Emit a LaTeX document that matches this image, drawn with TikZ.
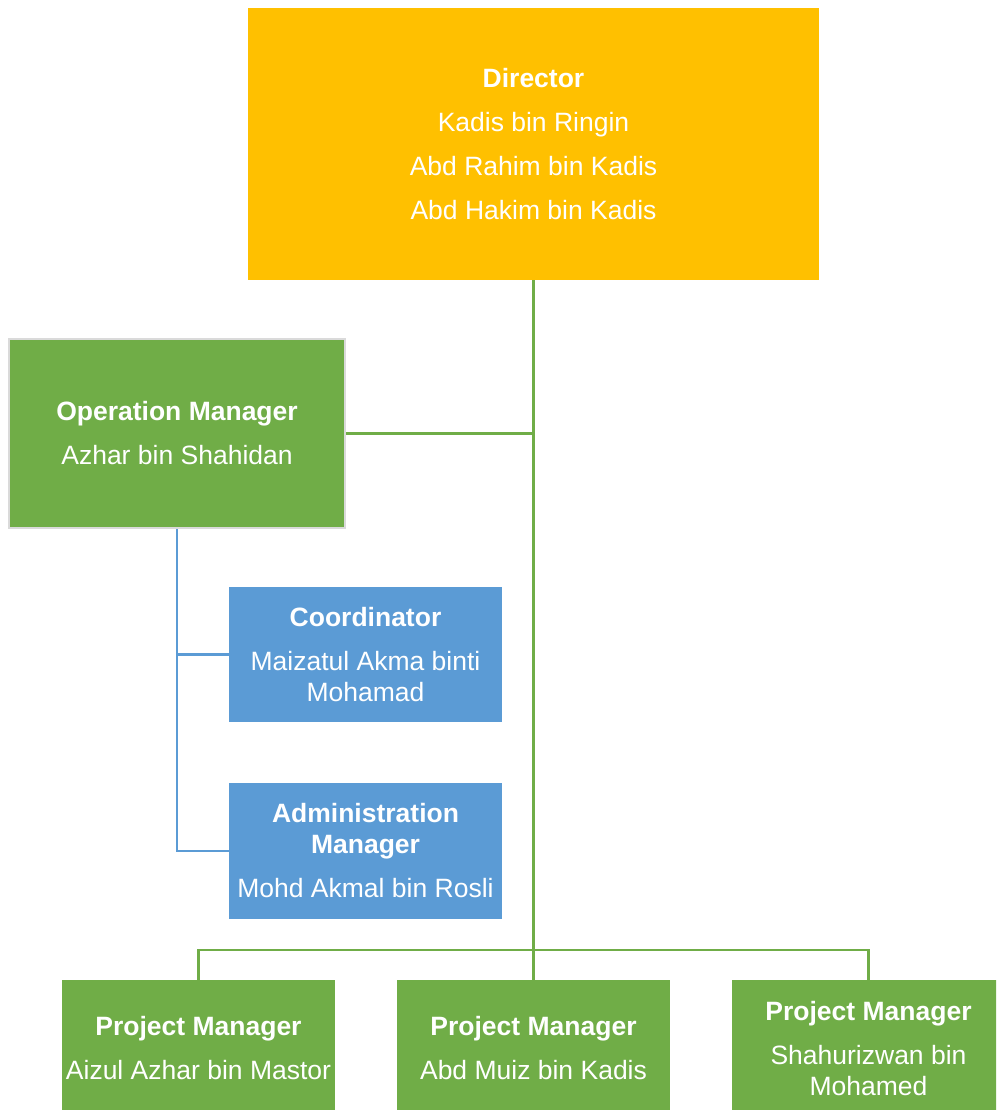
\documentclass[tikz,border=0pt]{standalone}
\usepackage{fontspec}
\setmainfont{Liberation Sans}
\definecolor{gold}{HTML}{FFC000}
\definecolor{leaf}{HTML}{70AD47}
\definecolor{sky}{HTML}{5B9BD5}
\definecolor{rim}{HTML}{DADADA}
\begin{document}
\begin{tikzpicture}[x=1pt,y=-1pt,
  box/.style={draw=none, inner sep=0pt, align=center, text=white,
    font=\fontsize{26.5}{31}\selectfont},
  gline/.style={draw=leaf, line width=2.5pt},
  bline/.style={draw=sky, line width=2.5pt}]
\clip (0,0) rectangle (996,1110);
\fill[white] (0,0) rectangle (996,1110);
\node[box, fill=gold, minimum width=571pt, minimum height=272pt] (dir) at (533.5,144)
  {\textbf{Director}\\[13pt]Kadis bin Ringin\\[13pt]Abd Rahim bin Kadis\\[13pt]Abd Hakim bin Kadis};
\node[box, fill=leaf, draw=rim, line width=2.5pt, minimum width=336pt, minimum height=189pt] (om) at (177,433.5)
  {\textbf{Operation Manager}\\[13pt]Azhar bin Shahidan};
\node[box, fill=sky, minimum width=273pt, minimum height=135pt] (coo) at (365.5,654.5)
  {\textbf{Coordinator}\\[13pt]Maizatul Akma binti\\Mohamad};
\node[box, fill=sky, minimum width=273pt, minimum height=136pt] (adm) at (365.5,851)
  {\textbf{Administration}\\\textbf{Manager}\\[13pt]Mohd Akmal bin Rosli};
\node[box, fill=leaf, minimum width=273pt, minimum height=137pt] (pm1) at (198.5,1048.5)
  {\textbf{Project Manager}\\[13pt]Aizul Azhar bin Mastor};
\node[box, fill=leaf, minimum width=273pt, minimum height=137pt] (pm2) at (533.5,1048.5)
  {\textbf{Project Manager}\\[13pt]Abd Muiz bin Kadis};
\node[box, fill=leaf, minimum width=273pt, minimum height=137pt] (pm3) at (868.5,1048.5)
  {\textbf{Project Manager}\\[13pt]Shahurizwan bin\\Mohamed};
\coordinate (bus) at (533.5,950);
\draw[gline] (dir.south) -- (dir.south |- pm2.north);
\draw[gline] (om.east) -- (om.east -| dir.south);
\draw[gline] (pm1.north) -- (pm1.north |- bus) -- (pm3.north |- bus) -- (pm3.north);
\draw[bline] (om.south) -- (om.south |- adm.west) -- (adm.west);
\draw[bline] (om.south |- coo.west) -- (coo.west);
\end{tikzpicture}
\end{document}
